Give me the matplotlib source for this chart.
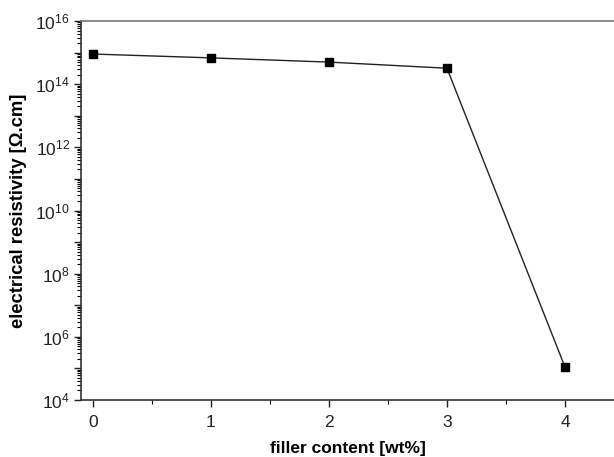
import matplotlib
matplotlib.use("Agg")
import matplotlib.pyplot as plt
import matplotlib.ticker as mticker
import numpy as np

plt.rcParams['font.family'] = ['Liberation Sans', 'DejaVu Sans']
plt.rcParams['mathtext.fontset'] = 'custom'
plt.rcParams['mathtext.rm'] = 'Liberation Sans'
plt.rcParams['mathtext.it'] = 'Liberation Sans'

filler = [0, 1, 2, 3, 4]
resistivity = [9.0e14, 6.8e14, 5.0e14, 3.2e14, 1.1e5]
xticks = [0, 1, 2, 3, 4]
ylabels_exp = [4, 6, 8, 10, 12, 14, 16]

W, H = 614, 457
fig = plt.figure(figsize=(W/100, H/100), dpi=100)
left, right, top, bottom = 81, 614, 21, 400
ax = fig.add_axes([left/W, 1-bottom/H, (right-left)/W, (bottom-top)/H])

ax.plot(filler, resistivity, color='#222222', lw=1.0, marker='s', ms=5.5,
        mfc='black', mec='black')
ax.set_yscale('log')
ax.set_ylim(1e4, 1e16)
ax.set_xlim(-0.1, 4.415)

ax.yaxis.set_major_locator(mticker.LogLocator(base=10, numticks=20))
ax.yaxis.set_minor_locator(mticker.LogLocator(base=10, subs=np.arange(2, 10), numticks=100))
def yfmt(v, pos):
    e = int(round(np.log10(v)))
    if e in ylabels_exp:
        return r'$10^{%d}$' % e
    return ''
ax.yaxis.set_major_formatter(mticker.FuncFormatter(yfmt))
ax.yaxis.set_minor_formatter(mticker.NullFormatter())

ax.set_xticks(xticks)
ax.set_xticklabels([str(x) for x in xticks])
ax.xaxis.set_minor_locator(mticker.FixedLocator([0.5, 1.5, 2.5, 3.5]))

ax.spines['right'].set_visible(False)
for s in ['left', 'bottom', 'top']:
    ax.spines[s].set_linewidth(1.2)
    ax.spines[s].set_color('#333333')
ax.spines['top'].set_color('#777777')

ax.tick_params(axis='both', which='major', direction='out', length=5, width=1.0,
               labelsize=12.5, colors='#222222')
ax.tick_params(axis='both', which='minor', direction='out', length=3, width=0.8)
ax.tick_params(axis='y', which='major', pad=3)
ax.tick_params(axis='x', which='major', pad=6)

ax.set_xlabel('filler content [wt%]', fontsize=12.5, fontweight='bold', labelpad=8)
ax.set_ylabel('electrical resistivity [Ω.cm]', fontsize=13.3, fontweight='bold')
ax.yaxis.set_label_coords(-0.102, 0.5)

fig.savefig('out.png', dpi=100)
